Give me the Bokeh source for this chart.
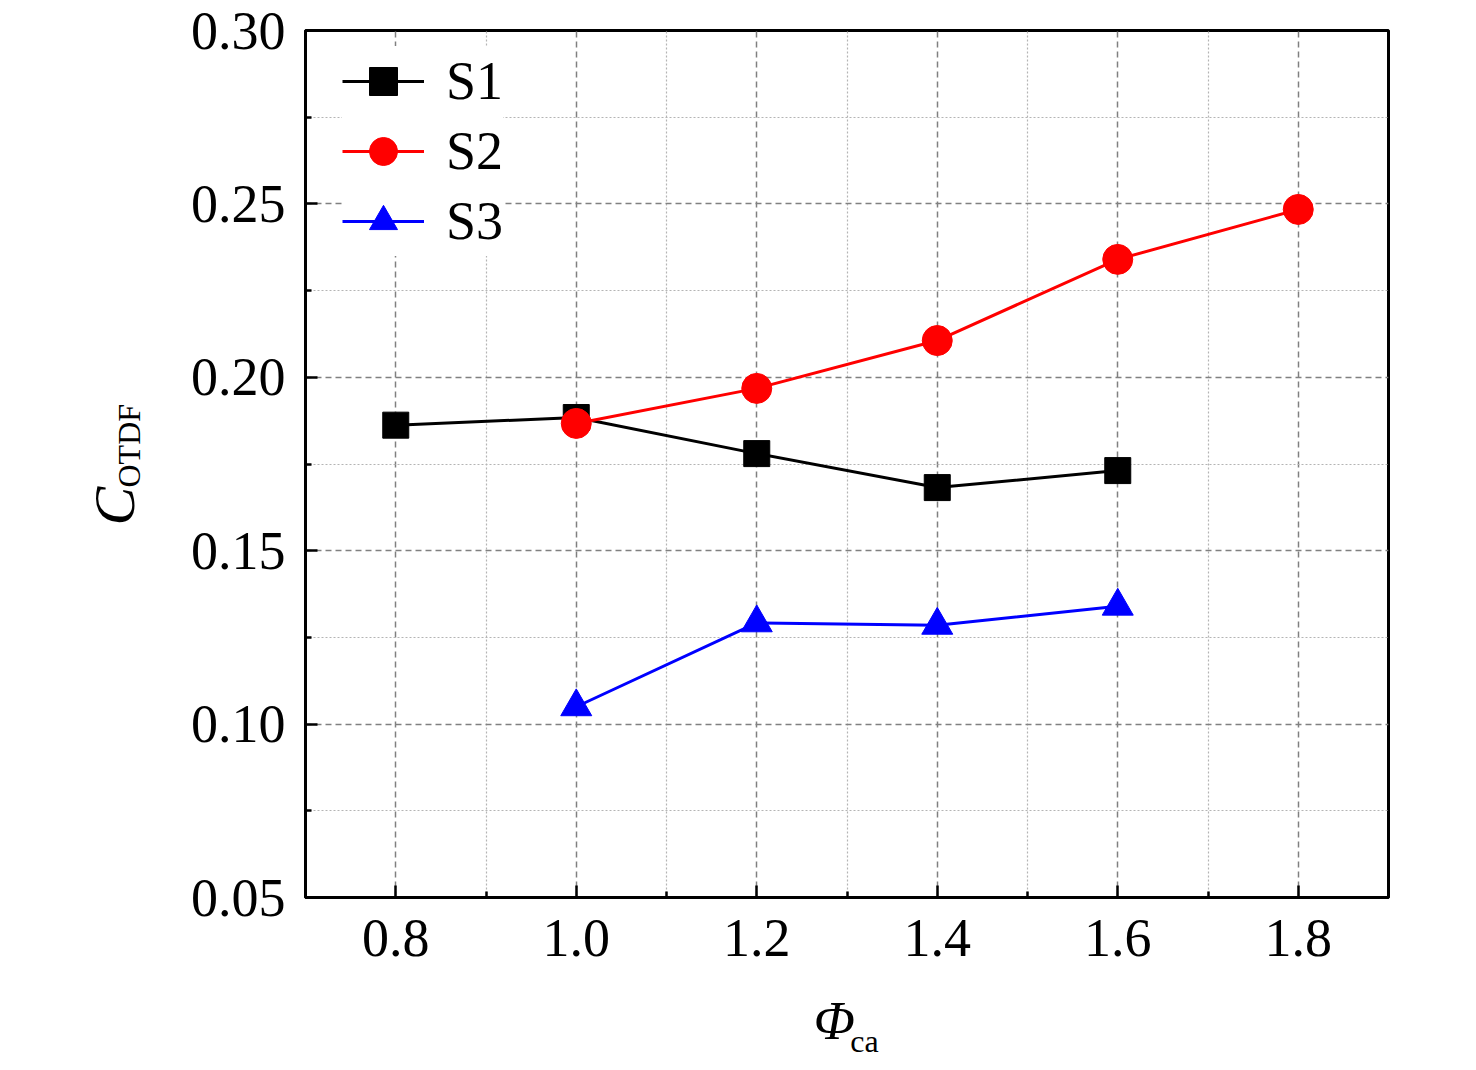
import math
from bokeh.plotting import figure
from bokeh.models import Range1d, FixedTicker, Legend, LegendItem
from bokeh.layouts import row, column
from bokeh.core.properties import value
from bokeh.embed import file_html
from bokeh.resources import INLINE

# ---- data ----
phi_s1 = [0.8, 1.0, 1.2, 1.4, 1.6]
c_s1 = [0.1862, 0.1884, 0.1780, 0.1682, 0.1731]
phi_s2 = [1.0, 1.2, 1.4, 1.6, 1.8]
c_s2 = [0.1867, 0.1968, 0.2106, 0.2340, 0.2484]
phi_s3 = [1.0, 1.2, 1.4, 1.6]
c_s3 = [0.1050, 0.1292, 0.1285, 0.1340]
series_names = ["S1", "S2", "S3"]

x_ticks = [0.8, 1.0, 1.2, 1.4, 1.6, 1.8]
x_tick_labels = ["0.8", "1.0", "1.2", "1.4", "1.6", "1.8"]
x_minor = [0.7, 0.9, 1.1, 1.3, 1.5, 1.7, 1.9]
y_ticks = [0.05, 0.10, 0.15, 0.20, 0.25, 0.30]
y_tick_labels = ["0.05", "0.10", "0.15", "0.20", "0.25", "0.30"]
y_minor = [0.075, 0.125, 0.175, 0.225, 0.275]

x_title_main, x_title_sub = "Φ", "ca"
y_title_main, y_title_sub = "C", "OTDF"

FONT = "Liberation Serif"
LEFT_W = 170

# ---- main plot ----
p = figure(width=1476 - LEFT_W, height=977, output_backend="svg", toolbar_location=None,
           tools="", x_range=Range1d(0.7, 1.9), y_range=Range1d(0.05, 0.30),
           min_border_left=305 - LEFT_W, min_border_right=88, min_border_top=30,
           min_border_bottom=80)
p.background_fill_color = "white"
p.border_fill_color = "white"
p.outline_line_color = "black"
p.outline_line_width = 3

p.xaxis.ticker = FixedTicker(ticks=x_ticks, minor_ticks=x_minor)
p.yaxis.ticker = FixedTicker(ticks=y_ticks, minor_ticks=y_minor)
p.xaxis.major_label_overrides = {t: l for t, l in zip(x_ticks, x_tick_labels)}
p.yaxis.major_label_overrides = {t: l for t, l in zip(y_ticks, y_tick_labels)}

for ax in (p.xaxis, p.yaxis):
    ax.axis_line_width = 3
    ax.axis_line_color = "black"
    ax.major_tick_in = 12
    ax.major_tick_out = 0
    ax.minor_tick_in = 6
    ax.minor_tick_out = 0
    ax.major_tick_line_width = 2.5
    ax.minor_tick_line_width = 2.5
    ax.major_label_text_font = FONT
    ax.major_label_text_font_size = "54px"
    ax.major_label_text_color = "black"
p.yaxis.major_label_standoff = 20
p.xaxis.major_label_standoff = 22

for g in (p.xgrid, p.ygrid):
    g.grid_line_color = "#808080"
    g.grid_line_width = 1.5
    g.grid_line_dash = "6 4"
    g.minor_grid_line_color = "#b4b4b4"
    g.minor_grid_line_width = 1.2
    g.minor_grid_line_dash = "2 2"

l1 = p.line(phi_s1, c_s1, line_color="black", line_width=3)
m1 = p.scatter(phi_s1, c_s1, marker="square", size=26, fill_color="black", line_color="black")
l2 = p.line(phi_s2, c_s2, line_color="#ff0000", line_width=3)
m2 = p.scatter(phi_s2, c_s2, marker="circle", size=30, fill_color="#ff0000", line_color="#ff0000")
l3 = p.line(phi_s3, c_s3, line_color="#0000ff", line_width=3)
m3 = p.scatter(phi_s3, c_s3, marker="triangle", size=31, fill_color="#0000ff", line_color="#0000ff")

legend = Legend(items=[LegendItem(label=series_names[0], renderers=[l1, m1]),
                       LegendItem(label=series_names[1], renderers=[l2, m2]),
                       LegendItem(label=series_names[2], renderers=[l3, m3])],
                location=(37, 641), orientation="vertical")
legend.label_text_font = FONT
legend.label_text_font_size = "54px"
legend.label_text_color = "black"
legend.glyph_width = 82
legend.glyph_height = 70
legend.label_height = 70
legend.spacing = 0
legend.padding = 4
legend.margin = 0
legend.label_standoff = 22
legend.border_line_color = None
legend.background_fill_color = "white"
legend.background_fill_alpha = 1.0
p.add_layout(legend, "center")


def text_panel(w, h):
    f = figure(width=w, height=h, output_backend="svg", toolbar_location=None, tools="",
               x_range=Range1d(0, w), y_range=Range1d(0, h),
               x_axis_location=None, y_axis_location=None,
               min_border_left=0, min_border_right=0, min_border_top=0, min_border_bottom=0)
    f.grid.visible = False
    f.outline_line_color = None
    f.background_fill_color = "white"
    f.border_fill_color = "white"
    return f


# ---- y-axis title panel (left) ----
left = text_panel(LEFT_W, 1070)
left.text(x=[114], y=[545], text=[y_title_main], text_font=value(FONT),
          text_font_style="italic", text_font_size="58px", text_color="black",
          text_align="left", text_baseline="alphabetic", angle=math.pi / 2)
left.text(x=[128], y=[583], text=[y_title_sub], text_font=value(FONT),
          text_font_size="32px", text_color="black",
          text_align="left", text_baseline="alphabetic", angle=math.pi / 2)

# ---- x-axis title panel (bottom) ----
bottom = text_panel(1476 - LEFT_W, 93)
bottom.text(x=[633 - (LEFT_W - 150)], y=[50], text=[x_title_main], text_font=value(FONT),
            text_font_style="italic", text_font_size="54px", text_color="black",
            text_align="left", text_baseline="alphabetic")
bottom.text(x=[677 - (LEFT_W - 150)], y=[30], text=[x_title_sub], text_font=value(FONT),
            text_font_size="32px", text_color="black",
            text_align="left", text_baseline="alphabetic")

layout = row(left, column(p, bottom, spacing=0), spacing=0)

open("out.html", "w").write(file_html(layout, INLINE))
